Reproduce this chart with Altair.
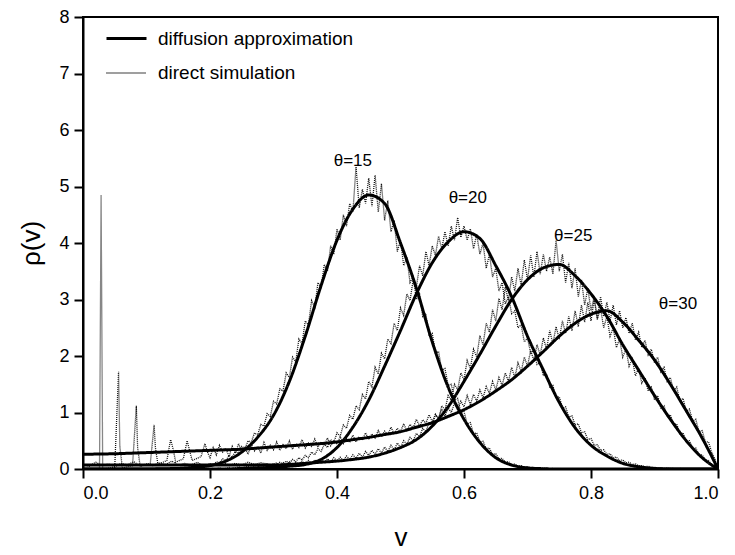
import altair as alt
import pandas as pd

# ---------------- data ----------------
STEP_SMOOTH = 0.025  # smooth curves sampled on 0, 0.025, ..., 1.0

diff_15 = [0, 0, 0, 0, 0, 0.005, 0.01, 0.03, 0.06, 0.14, 0.30, 0.56, 0.95, 1.55, 2.35, 3.25, 4.05, 4.60,
           4.85, 4.70, 4.00, 3.20, 2.25, 1.45, 0.88, 0.47, 0.20, 0.07, 0.02, 0.005, 0, 0, 0, 0, 0, 0, 0,
           0, 0, 0, 0]
diff_20 = [0, 0, 0, 0, 0, 0, 0, 0, 0, 0, 0.01, 0.02, 0.03, 0.05, 0.08, 0.17, 0.38, 0.74, 1.22, 1.82,
           2.45, 3.10, 3.65, 4.02, 4.20, 4.08, 3.60, 3.05, 2.35, 1.75, 1.18, 0.73, 0.42, 0.23, 0.10,
           0.04, 0.01, 0, 0, 0, 0]
diff_25 = [0.07, 0.07, 0.07, 0.07, 0.07, 0.07, 0.07, 0.07, 0.07, 0.07, 0.07, 0.07, 0.07, 0.08, 0.10,
           0.12, 0.14, 0.17, 0.21, 0.28, 0.38, 0.52, 0.76, 1.10, 1.55, 2.03, 2.53, 3.00, 3.35, 3.56,
           3.62, 3.42, 3.10, 2.70, 2.20, 1.75, 1.30, 0.88, 0.50, 0.20, 0]
diff_30 = [0.26, 0.265, 0.27, 0.28, 0.29, 0.30, 0.31, 0.32, 0.33, 0.34, 0.35, 0.37, 0.39, 0.41, 0.43,
           0.45, 0.48, 0.52, 0.56, 0.61, 0.66, 0.74, 0.82, 0.93, 1.05, 1.20, 1.38, 1.58, 1.82, 2.08,
           2.35, 2.58, 2.74, 2.80, 2.60, 2.28, 1.93, 1.50, 1.03, 0.55, 0]

# direct simulation (noisy), sampled every 0.005 from the given start
sim_15_start = 0.15
sim_15 = [0.02, 0.00, 0.03, 0.01, 0.05, 0.02, 0.06, 0.03, 0.08, 0.05, 0.10, 0.07, 0.13, 0.11, 0.18,
          0.15, 0.24, 0.21, 0.31, 0.28, 0.40, 0.36, 0.50, 0.47, 0.64, 0.60, 0.79, 0.76, 0.98, 0.93,
          1.20, 1.15, 1.42, 1.38, 1.70, 1.62, 1.98, 1.90, 2.30, 2.22, 2.62, 2.55, 2.98, 2.86, 3.30,
          3.22, 3.62, 3.50, 3.95, 3.80, 4.25, 4.05, 4.50, 4.30, 4.70, 4.55, 5.35, 4.62, 4.95, 4.70,
          5.15, 4.65, 5.20, 4.55, 5.05, 4.40, 4.75, 4.20, 4.40, 3.85, 4.05, 3.60, 3.75, 3.30, 3.40,
          3.00, 3.10, 2.70, 2.75, 2.35, 2.40, 2.05, 2.08, 1.75, 1.78, 1.48, 1.50, 1.22, 1.25, 1.00,
          1.02, 0.80, 0.82, 0.62, 0.64, 0.48, 0.49, 0.36, 0.37, 0.26, 0.27, 0.18, 0.19, 0.12, 0.13,
          0.08, 0.09, 0.05, 0.06, 0.03, 0.04, 0.02, 0.03, 0.01, 0.02, 0.01, 0.01, 0.00, 0.01, 0.00,
          0.00]
sim_20_start = 0.20
sim_20 = [0.00, 0.01, 0.00, 0.02, 0.00, 0.01, 0.03, 0.01, 0.02, 0.04, 0.01, 0.03, 0.05, 0.02, 0.06,
          0.03, 0.07, 0.04, 0.09, 0.05, 0.10, 0.07, 0.12, 0.08, 0.14, 0.10, 0.17, 0.13, 0.20, 0.16,
          0.24, 0.20, 0.30, 0.25, 0.36, 0.31, 0.44, 0.38, 0.52, 0.47, 0.64, 0.58, 0.78, 0.72, 0.95,
          0.88, 1.12, 1.05, 1.32, 1.24, 1.55, 1.45, 1.80, 1.68, 2.05, 1.95, 2.30, 2.22, 2.58, 2.45,
          2.85, 2.72, 3.10, 2.98, 3.35, 3.22, 3.60, 3.42, 3.85, 3.60, 3.95, 3.78, 4.12, 3.90, 4.20,
          3.95, 4.30, 4.05, 4.45, 4.10, 4.30, 4.05, 4.25, 3.90, 4.15, 3.80, 4.00, 3.55, 3.80, 3.40,
          3.55, 3.15, 3.30, 2.92, 3.05, 2.75, 2.80, 2.50, 2.55, 2.25, 2.32, 2.05, 2.10, 1.85, 1.88,
          1.65, 1.68, 1.45, 1.48, 1.25, 1.28, 1.08, 1.10, 0.92, 0.94, 0.78, 0.80, 0.64, 0.66, 0.52,
          0.54, 0.42, 0.43, 0.33, 0.34, 0.26, 0.27, 0.20, 0.21, 0.15, 0.16, 0.11, 0.12, 0.08, 0.09,
          0.06, 0.06, 0.04, 0.05, 0.03, 0.03, 0.02, 0.02, 0.01, 0.02, 0.01, 0.01, 0.00, 0.01, 0.00,
          0.00]
sim_25_low = [0.08, 0.05, 0.12, 0.06, 0.09, 0.04, 0.10, 0.07, 0.13, 0.05, 0.09, 0.06, 0.11, 0.08,
              0.14, 0.06, 0.10, 0.07, 0.12, 0.05, 0.09, 0.08, 0.13, 0.06, 0.10, 0.07, 0.12, 0.08,
              0.11, 0.09]  # every 0.01 from 0.00
sim_25_start = 0.30
sim_25 = [0.07, 0.11, 0.06, 0.12, 0.08, 0.13, 0.07, 0.12, 0.09, 0.14, 0.08, 0.15, 0.10, 0.16, 0.11,
          0.17, 0.12, 0.18, 0.13, 0.20, 0.14, 0.21, 0.15, 0.23, 0.17, 0.25, 0.19, 0.28, 0.21, 0.31,
          0.24, 0.33, 0.26, 0.36, 0.28, 0.39, 0.31, 0.42, 0.34, 0.46, 0.38, 0.50, 0.44, 0.56, 0.50,
          0.63, 0.57, 0.72, 0.66, 0.83, 0.76, 0.96, 0.88, 1.12, 1.04, 1.30, 1.22, 1.50, 1.40, 1.70,
          1.58, 1.92, 1.78, 2.12, 1.98, 2.36, 2.20, 2.58, 2.42, 2.82, 2.62, 3.02, 2.82, 3.22, 2.98,
          3.40, 3.15, 3.55, 3.25, 3.70, 3.35, 3.78, 3.40, 3.85, 3.45, 3.80, 3.50, 3.75, 3.45, 4.05,
          3.50, 3.80, 3.30, 3.65, 3.20, 3.55, 3.05, 3.35, 2.90, 3.20, 2.80, 3.05, 2.65, 2.85, 2.50,
          2.70, 2.35, 2.50, 2.15, 2.30, 1.98, 2.12, 1.82, 1.95, 1.65, 1.78, 1.52, 1.62, 1.38, 1.45,
          1.22, 1.30, 1.08, 1.12, 0.92, 0.96, 0.78, 0.80, 0.62, 0.64, 0.48, 0.50, 0.36, 0.37, 0.25,
          0.25, 0.16, 0.15, 0.08, 0.06, 0.00]
# theta=30 simulation: discrete spikes at small v
sim_30_spike_v = [0.000, 0.026, 0.0285, 0.031, 0.050, 0.056, 0.058, 0.062, 0.078, 0.084, 0.086,
                  0.090, 0.106, 0.112, 0.114, 0.118, 0.132, 0.138, 0.142, 0.146, 0.158, 0.164,
                  0.168, 0.172, 0.186, 0.192, 0.196]
sim_30_spike_rho = [0.00, 0.00, 4.85, 0.00, 0.03, 1.72, 0.40, 0.02, 0.06, 1.12, 0.38, 0.05, 0.10,
                    0.78, 0.38, 0.08, 0.15, 0.52, 0.35, 0.12, 0.18, 0.50, 0.32, 0.15, 0.22, 0.45,
                    0.30]
sim_30_start = 0.20
sim_30 = [0.20, 0.38, 0.25, 0.42, 0.30, 0.36, 0.22, 0.40, 0.28, 0.45, 0.30, 0.38, 0.26, 0.44, 0.32,
          0.40, 0.28, 0.47, 0.33, 0.42, 0.34, 0.48, 0.33, 0.43, 0.36, 0.50, 0.35, 0.45, 0.38, 0.52,
          0.37, 0.46, 0.40, 0.53, 0.39, 0.48, 0.42, 0.55, 0.41, 0.50, 0.44, 0.57, 0.45, 0.54, 0.47,
          0.60, 0.48, 0.57, 0.51, 0.64, 0.52, 0.62, 0.55, 0.68, 0.57, 0.67, 0.60, 0.74, 0.62, 0.72,
          0.66, 0.80, 0.68, 0.79, 0.73, 0.88, 0.76, 0.87, 0.81, 0.96, 0.84, 0.97, 0.90, 1.06, 0.94,
          1.08, 1.00, 1.17, 1.04, 1.20, 1.10, 1.30, 1.14, 1.32, 1.20, 1.40, 1.26, 1.46, 1.34, 1.55,
          1.40, 1.62, 1.48, 1.70, 1.55, 1.80, 1.62, 1.88, 1.72, 1.98, 1.82, 2.10, 1.92, 2.20, 2.02,
          2.32, 2.12, 2.45, 2.22, 2.52, 2.30, 2.62, 2.40, 2.70, 2.45, 2.80, 2.52, 2.90, 2.60, 2.95,
          2.62, 3.00, 2.65, 3.05, 2.70, 2.95, 2.62, 2.90, 2.55, 2.80, 2.50, 2.68, 2.40, 2.58, 2.28,
          2.42, 2.15, 2.28, 2.02, 2.12, 1.88, 1.98, 1.72, 1.80, 1.55, 1.62, 1.38, 1.45, 1.20, 1.25,
          1.02, 1.06, 0.85, 0.88, 0.66, 0.68, 0.48, 0.48, 0.30, 0.18, 0.00]

label_text = ["θ=15", "θ=20", "θ=25", "θ=30"]
label_v = [0.425, 0.606, 0.772, 0.937]
label_rho = [5.45, 4.8, 4.12, 2.92]

KIND_DIFF = "diffusion approximation"
KIND_SIM = "direct simulation"

# ---------------- build table ----------------
rows = []


def add(vs, rhos, theta, kind):
    for v, r in zip(vs, rhos):
        rows.append({"v": round(v, 5), "rho": r, "series": f"{theta}-{kind}", "kind": kind})


def grid(start, step, n):
    return [start + i * step for i in range(n)]


for th, ys in [(15, diff_15), (20, diff_20), (25, diff_25), (30, diff_30)]:
    add(grid(0.0, STEP_SMOOTH, len(ys)), ys, th, KIND_DIFF)

add(grid(sim_15_start, 0.005, len(sim_15)), sim_15, 15, KIND_SIM)
add(grid(sim_20_start, 0.005, len(sim_20)), sim_20, 20, KIND_SIM)
add(grid(0.0, 0.01, len(sim_25_low)) + grid(sim_25_start, 0.005, len(sim_25)),
    sim_25_low + sim_25, 25, KIND_SIM)
add(sim_30_spike_v + grid(sim_30_start, 0.005, len(sim_30)),
    sim_30_spike_rho + sim_30, 30, KIND_SIM)

df = pd.DataFrame(rows)
labels = pd.DataFrame({"v": label_v, "rho": label_rho, "text": label_text})

FONT = "Liberation Sans"

x_enc = alt.X("v:Q", scale=alt.Scale(domain=[0, 1], nice=False),
              axis=alt.Axis(values=[0, 0.2, 0.4, 0.6, 0.8, 1.0], format=".1f", title="v",
                            titleFontSize=26, titleFontWeight="normal", titlePadding=22,
                            labelFontSize=18, labelPadding=6, grid=False, tickSize=9,
                            tickWidth=2, domainWidth=2, domainColor="black", tickColor="black",
                            labelColor="black", titleColor="black", labelFont=FONT,
                            titleFont=FONT))
y_enc = alt.Y("rho:Q", scale=alt.Scale(domain=[0, 8], nice=False),
              axis=alt.Axis(values=list(range(0, 9)), format="d", title="ρ(v)", titleFontSize=26,
                            titleFontWeight="normal", titlePadding=14, labelFontSize=18,
                            labelPadding=5, grid=False, tickSize=9, tickWidth=2, domainWidth=2,
                            domainColor="black", tickColor="black", labelColor="black",
                            titleColor="black", labelFont=FONT, titleFont=FONT))
sw_enc = alt.StrokeWidth("kind:N", scale=alt.Scale(domain=[KIND_DIFF, KIND_SIM], range=[3.0, 1.3]),
                         legend=alt.Legend(title=None))
sd_enc = alt.StrokeDash("kind:N", scale=alt.Scale(domain=[KIND_DIFF, KIND_SIM],
                                                  range=[[1, 0], [1, 1]]),
                        legend=alt.Legend(title=None))

base = alt.Chart(df).encode(x=x_enc, y=y_enc, detail="series:N", order=alt.Order("v:Q"),
                            strokeWidth=sw_enc, strokeDash=sd_enc)

sim_lines = base.mark_line(color="#111111", interpolate="linear", clip=True).transform_filter(
    alt.datum.kind == KIND_SIM)
diff_lines = base.mark_line(color="black", interpolate="monotone", clip=True).transform_filter(
    alt.datum.kind == KIND_DIFF)

text = alt.Chart(labels).mark_text(fontSize=17, font=FONT, color="black").encode(
    x="v:Q", y="rho:Q", text="text:N")

chart = alt.layer(sim_lines, diff_lines, text).properties(
    width=635, height=452, background="white",
    padding={"left": 10, "top": 0, "right": 5, "bottom": 0}
).configure_view(stroke="black", strokeWidth=2).configure_legend(
    orient="none", legendX=22, legendY=0, labelFontSize=19, labelFont=FONT,
    labelColor="black", symbolType="stroke", symbolSize=1600, symbolStrokeColor="black",
    labelOffset=10, rowPadding=3, padding=0, labelLimit=400
)

chart.save("out.html", embed_options={"renderer": "svg", "actions": False})
